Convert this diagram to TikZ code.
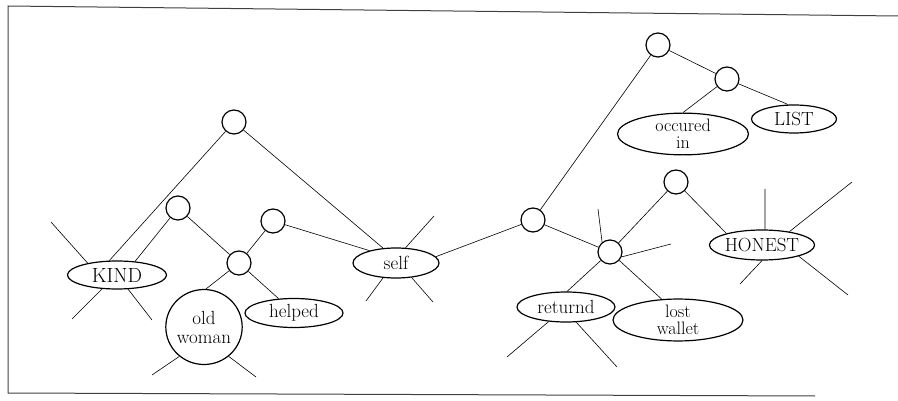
\documentclass[tikz,border=0pt]{standalone}
\usetikzlibrary{shapes.geometric}
\begin{document}
\begin{tikzpicture}[x=1pt,y=-1pt,
  every node/.style={font=\fontsize{19}{19}\selectfont},
  tight/.style={font=\fontsize{18}{17}\selectfont},
  blob/.style={draw,line width=1.2pt,ellipse,inner sep=0pt,align=center},
  knot/.style={draw,line width=1.2pt,circle,inner sep=0pt,minimum size=24pt},
  link/.style={line width=0.6pt},
  frame/.style={line width=1pt,draw=black!75}]
\useasboundingbox (0,0) rectangle (898,401);
\draw[frame] (898,16) -- (8,6) -- (8,393) -- (815,396);

% circles
\node[knot] (c1) at (234,122) {};
\node[knot] (c2) at (178,208) {};
\node[knot] (c3) at (273,221) {};
\node[knot] (c4) at (239,263) {};
\node[knot] (c5) at (533,220) {};
\node[knot] (c6) at (658,45) {};
\node[knot] (c7) at (727,79) {};
\node[knot] (c8) at (676,182) {};
\node[knot] (c9) at (610,252) {};

% labelled ellipses
\node[blob,minimum width=99pt,minimum height=28pt,font=\fontsize{20.5}{20}\selectfont] (kind) at (117,275) {KIND};
\node[blob,minimum width=73pt,minimum height=75pt] (old) at (204,327) {old\\woman};
\node[blob,minimum width=98pt,minimum height=29pt] (helped) at (294,313) {helped};
\node[blob,minimum width=86pt,minimum height=30pt] (self) at (396,263) {self};
\node[blob,minimum width=98pt,minimum height=30pt] (returnd) at (566,307) {returnd};
\node[blob,tight,minimum width=130pt,minimum height=40pt] (lost) at (678,320) {lost\\wallet};
\node[blob,minimum width=98pt,minimum height=30pt] (honest) at (762,245) {HONEST};
\node[blob,tight,minimum width=131pt,minimum height=39pt] (occ) at (683,134) {occured\\in};
\node[blob,minimum width=85pt,minimum height=28pt] (list) at (794,119) {LIST};

% free ends of spokes
\coordinate (k1) at (51,222);
\coordinate (k2) at (72,319);
\coordinate (k3) at (152,320);
\coordinate (o1) at (152,375);
\coordinate (o2) at (256,377);
\coordinate (s1) at (434,216);
\coordinate (s2) at (366,301);
\coordinate (s3) at (433,302);
\coordinate (r1) at (507,357);
\coordinate (r2) at (617,367);
\coordinate (n1) at (598,209);
\coordinate (n2) at (671,244);
\coordinate (h1) at (765,189);
\coordinate (h2) at (852,182);
\coordinate (h3) at (740,284);
\coordinate (h4) at (848,295);

% connectors
\draw[link] (c1) -- (kind.118);
\draw[link] (c1) -- (self.131);
\draw[link] (c2) -- (kind.37);
\draw[link] (c2) -- (c4);
\draw[link] (c3) -- (c4);
\draw[link] (c3) -- (self.155);
\draw[link] (c4) -- (old.87);
\draw[link] (c4) -- (helped.137);
\draw[link] (c5) -- (self.9);
\draw[link] (c5) -- (c6);
\draw[link] (c5) -- (c9);
\draw[link] (c6) -- (c7);
\draw[link] (c7) -- (occ.90);
\draw[link] (c7) -- (list.112);
\draw[link] (c8) -- (c9);
\draw[link] (c8) -- (honest.162);
\draw[link] (c9) -- (returnd.86);
\draw[link] (c9) -- (lost.128);

% spokes
\draw[link] (kind.158) -- (k1);
\draw[link] (kind.223) -- (k2);
\draw[link] (kind.308) -- (k3);
\draw[link] (old.230) -- (o1);
\draw[link] (old.310) -- (o2);
\draw[link] (self.58) -- (s1);
\draw[link] (self.229) -- (s2);
\draw[link] (self.317) -- (s3);
\draw[link] (returnd.220) -- (r1);
\draw[link] (returnd.304) -- (r2);
\draw[link] (c9.129) -- (n1);
\draw[link] (c9.337) -- (n2);
\draw[link] (honest.79) -- (h1);
\draw[link] (honest.26) -- (h2);
\draw[link] (honest.270) -- (h3);
\draw[link] (honest.343) -- (h4);
\end{tikzpicture}
\end{document}
